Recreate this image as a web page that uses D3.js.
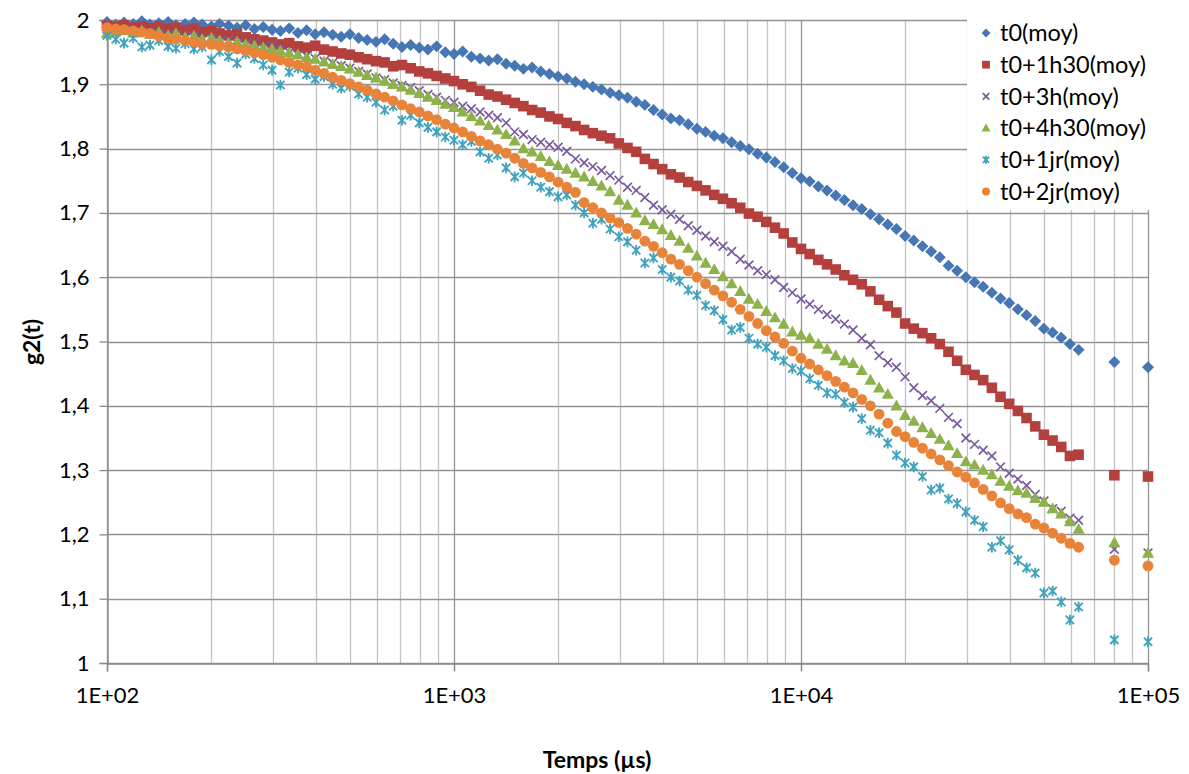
<!DOCTYPE html>
<html><head><meta charset="utf-8">
<script src="https://cdn.jsdelivr.net/npm/d3@7"></script>
<style>
html,body{margin:0;padding:0;background:#fff;}
svg{display:block;font-family:Lato,"Open Sans",sans-serif;}
</style></head>
<body><svg id="chart" width="1189" height="774"></svg>
<script>
// Lag times (µs)
const times = [
100,106,112,119,126,133,141,150,158,168,178,188,200,211,224,237,251,266,282,299,
316,335,355,376,398,422,447,473,501,531,562,596,631,668,708,750,794,841,891,944,
1000,1059,1122,1189,1259,1334,1413,1496,1585,1679,1778,1884,1995,2113,2239,2371,2512,2661,2818,2985,
3162,3350,3548,3758,3981,4217,4467,4732,5012,5309,5623,5957,6310,6683,7079,7499,7943,8414,8913,9441,
10000,10593,11220,11885,12589,13335,14125,14962,15849,16788,17783,18836,19953,21135,22387,23714,25119,26607,28184,29854,
31623,33497,35481,37584,39811,42170,44668,47315,50119,53088,56234,59566,63096,80000,100000];

const t0 = [1.997,1.993,1.996,1.994,1.998,1.993,1.995,1.997,1.992,1.994,
1.996,1.993,1.990,1.994,1.991,1.988,1.992,1.986,1.989,1.985,
1.983,1.987,1.980,1.984,1.978,1.981,1.977,1.974,1.978,1.972,
1.969,1.966,1.970,1.963,1.958,1.961,1.957,1.954,1.959,1.950,
1.947,1.951,1.943,1.940,1.937,1.939,1.932,1.929,1.924,1.926,
1.920,1.916,1.912,1.909,1.904,1.900,1.896,1.892,1.887,1.883,
1.879,1.873,1.868,1.860,1.853,1.847,1.844,1.838,1.831,1.826,
1.820,1.816,1.810,1.804,1.799,1.792,1.786,1.779,1.771,1.762,
1.754,1.749,1.741,1.735,1.727,1.720,1.712,1.706,1.698,1.690,
1.682,1.675,1.664,1.657,1.648,1.640,1.631,1.618,1.610,1.600,
1.592,1.585,1.576,1.567,1.560,1.550,1.541,1.532,1.520,1.514,
1.506,1.496,1.487,1.468,1.460];

const t1h30 = [1.991,1.989,1.992,1.988,1.990,1.987,1.990,1.986,1.988,1.984,
1.986,1.981,1.983,1.979,1.976,1.978,1.973,1.970,1.968,1.965,
1.962,1.964,1.959,1.957,1.960,1.954,1.951,1.948,1.946,1.942,
1.939,1.936,1.934,1.928,1.930,1.925,1.920,1.917,1.913,1.909,
1.905,1.900,1.896,1.890,1.884,1.881,1.876,1.871,1.866,1.860,
1.856,1.850,1.846,1.840,1.835,1.829,1.824,1.820,1.816,1.808,
1.801,1.795,1.784,1.776,1.768,1.760,1.755,1.748,1.742,1.735,
1.728,1.722,1.715,1.708,1.699,1.694,1.686,1.677,1.668,1.654,
1.644,1.636,1.627,1.620,1.612,1.603,1.596,1.589,1.578,1.565,
1.555,1.545,1.528,1.520,1.513,1.505,1.496,1.484,1.470,1.456,
1.448,1.440,1.428,1.414,1.403,1.392,1.381,1.368,1.355,1.346,
1.336,1.322,1.324,1.292,1.290];

const t3h = [1.986,1.983,1.985,1.980,1.982,1.978,1.980,1.976,1.978,1.973,
1.975,1.970,1.972,1.967,1.969,1.964,1.962,1.965,1.958,1.960,
1.955,1.950,1.946,1.944,1.940,1.936,1.933,1.929,1.925,1.920,
1.916,1.910,1.907,1.902,1.898,1.895,1.890,1.884,1.880,1.875,
1.872,1.866,1.862,1.857,1.852,1.848,1.840,1.826,1.822,1.814,
1.810,1.806,1.802,1.796,1.784,1.778,1.772,1.766,1.758,1.751,
1.740,1.735,1.724,1.712,1.705,1.698,1.690,1.680,1.673,1.664,
1.655,1.648,1.640,1.628,1.619,1.610,1.604,1.596,1.584,1.576,
1.566,1.558,1.550,1.542,1.535,1.527,1.518,1.505,1.495,1.478,
1.467,1.460,1.445,1.428,1.416,1.408,1.396,1.382,1.372,1.350,
1.340,1.331,1.322,1.305,1.295,1.286,1.276,1.262,1.252,1.240,
1.236,1.225,1.222,1.177,1.171];

const t4h30 = [1.979,1.982,1.984,1.980,1.983,1.978,1.981,1.976,1.979,1.973,
1.975,1.970,1.972,1.968,1.964,1.966,1.962,1.960,1.957,1.955,
1.952,1.949,1.946,1.942,1.939,1.935,1.931,1.928,1.924,1.919,
1.914,1.910,1.905,1.900,1.896,1.891,1.886,1.880,1.875,1.869,
1.864,1.857,1.850,1.843,1.836,1.829,1.822,1.812,1.800,1.795,
1.788,1.780,1.774,1.768,1.762,1.756,1.749,1.742,1.733,1.720,
1.712,1.700,1.688,1.682,1.674,1.665,1.656,1.645,1.633,1.622,
1.612,1.601,1.590,1.578,1.566,1.558,1.547,1.537,1.527,1.515,
1.510,1.505,1.496,1.488,1.478,1.470,1.466,1.455,1.440,1.428,
1.418,1.400,1.385,1.376,1.366,1.357,1.348,1.338,1.326,1.313,
1.308,1.300,1.293,1.283,1.275,1.268,1.264,1.256,1.250,1.240,
1.232,1.220,1.208,1.187,1.171];

const t1jr = [1.976,1.970,1.964,1.972,1.958,1.961,1.968,1.959,1.956,1.963,
1.955,1.958,1.938,1.951,1.943,1.933,1.947,1.940,1.930,1.922,
1.899,1.919,1.925,1.915,1.908,1.912,1.900,1.894,1.897,1.885,
1.880,1.872,1.860,1.866,1.844,1.852,1.840,1.833,1.826,1.818,
1.813,1.806,1.811,1.795,1.785,1.790,1.770,1.756,1.762,1.750,
1.740,1.733,1.725,1.728,1.712,1.700,1.684,1.690,1.675,1.663,
1.655,1.642,1.622,1.630,1.612,1.600,1.594,1.580,1.572,1.556,
1.548,1.534,1.518,1.522,1.505,1.496,1.491,1.478,1.470,1.458,
1.454,1.442,1.432,1.420,1.418,1.405,1.398,1.380,1.362,1.358,
1.342,1.323,1.311,1.305,1.290,1.269,1.272,1.255,1.248,1.235,
1.222,1.212,1.180,1.190,1.176,1.160,1.148,1.140,1.109,1.112,
1.095,1.067,1.087,1.036,1.033];

const t2jr = [1.988,1.986,1.985,1.983,1.981,1.979,1.975,1.971,1.970,1.968,
1.966,1.963,1.962,1.960,1.958,1.955,1.952,1.949,1.946,1.942,
1.938,1.934,1.930,1.927,1.922,1.917,1.911,1.906,1.901,1.896,
1.891,1.885,1.880,1.874,1.868,1.862,1.857,1.851,1.845,1.838,
1.832,1.826,1.819,1.812,1.806,1.799,1.793,1.785,1.777,1.770,
1.763,1.756,1.748,1.740,1.732,1.716,1.708,1.700,1.692,1.685,
1.676,1.667,1.656,1.648,1.638,1.628,1.620,1.610,1.600,1.590,
1.580,1.571,1.561,1.550,1.539,1.528,1.517,1.507,1.497,1.485,
1.474,1.465,1.456,1.447,1.438,1.429,1.420,1.410,1.400,1.387,
1.373,1.360,1.352,1.343,1.334,1.325,1.316,1.307,1.297,1.289,
1.280,1.270,1.260,1.249,1.240,1.232,1.226,1.216,1.210,1.202,
1.194,1.186,1.180,1.160,1.151];

const seriesNames = ["t0(moy)","t0+1h30(moy)","t0+3h(moy)","t0+4h30(moy)","t0+1jr(moy)","t0+2jr(moy)"];
const seriesValues = [t0, t1h30, t3h, t4h30, t1jr, t2jr];
const seriesColors = ["#4677B4","#B4403E","#7A5A9E","#8DB24A","#3FA3C0","#E8833A"];
const seriesMarkers = ["diamond","square","x","triangle","star","circle"];

const xTicks = [100,1000,10000,100000];
const xTickLabels = ["1E+02","1E+03","1E+04","1E+05"];
const yTicks = [1,1.1,1.2,1.3,1.4,1.5,1.6,1.7,1.8,1.9,2];
const yTickLabels = ["1","1,1","1,2","1,3","1,4","1,5","1,6","1,7","1,8","1,9","2"];

const svg = d3.select("#chart");
const L = 107, R = 1148, T = 20, B = 663;
const x = d3.scaleLog().domain([100,100000]).range([L,R]);
const y = d3.scaleLinear().domain([1,2]).range([B,T]);

const grid = svg.append("g");
const minor = [];
[100,1000,10000].forEach(d => { for (let k=2;k<=9;k++) minor.push(d*k); });
grid.selectAll("line.minor").data(minor).join("line")
  .attr("x1",d=>Math.round(x(d))+0.5).attr("x2",d=>Math.round(x(d))+0.5)
  .attr("y1",T).attr("y2",B).attr("stroke","#c3c3c3").attr("stroke-width",1.3);
grid.selectAll("line.h").data(yTicks).join("line")
  .attr("x1",L).attr("x2",R).attr("y1",d=>Math.round(y(d))+0.5).attr("y2",d=>Math.round(y(d))+0.5)
  .attr("stroke","#939393").attr("stroke-width",1.3);
grid.selectAll("line.maj").data(xTicks).join("line")
  .attr("x1",d=>Math.round(x(d))+0.5).attr("x2",d=>Math.round(x(d))+0.5)
  .attr("y1",T).attr("y2",B+8).attr("stroke","#939393").attr("stroke-width",1.3);

const yAxis = d3.axisLeft(y).tickValues(yTicks).tickSize(8).tickFormat((d,i)=>yTickLabels[i]).tickPadding(10);
const ya = svg.append("g").attr("transform",`translate(${L+0.5},0)`).call(yAxis);
ya.select(".domain").attr("stroke","#8a8a8a").attr("stroke-width",1.3);
ya.selectAll(".tick line").attr("stroke","#8a8a8a").attr("stroke-width",1.3);
ya.selectAll("text").attr("font-size",22).attr("fill","#000").attr("font-family","Lato");
const xAxis = d3.axisBottom(x).tickValues(xTicks).tickSize(8).tickFormat((d,i)=>xTickLabels[i]).tickPadding(16);
const xa = svg.append("g").attr("transform",`translate(0,${B+0.5})`).call(xAxis);
xa.select(".domain").attr("stroke","#8a8a8a").attr("stroke-width",1.3);
xa.selectAll(".tick line").attr("stroke","#8a8a8a").attr("stroke-width",1.3);
xa.selectAll("text").attr("font-size",22).attr("fill","#000").attr("font-family","Lato");

function marker(sel, type, color, s) {
  s = s || 1;
  if (type === "diamond") sel.append("path").attr("d",`M0,${-5.2*s}L${5.2*s},0L0,${5.2*s}L${-5.2*s},0Z`).attr("fill",color);
  else if (type === "square") sel.append("rect").attr("x",-4.6*s).attr("y",-4.6*s).attr("width",9.2*s).attr("height",9.2*s).attr("fill",color);
  else if (type === "triangle") sel.append("path").attr("d",`M0,${-5.5*s}L${5.3*s},${4*s}L${-5.3*s},${4*s}Z`).attr("fill",color);
  else if (type === "circle") sel.append("circle").attr("r",4.7*s).attr("fill",color);
  else if (type === "x") sel.append("path").attr("d",`M${-3.8*s},${-3.8*s}L${3.8*s},${3.8*s}M${3.8*s},${-3.8*s}L${-3.8*s},${3.8*s}`).attr("stroke",color).attr("stroke-width",1.7).attr("fill","none");
  else if (type === "star") sel.append("path").attr("d",`M${-3.6*s},${-3.6*s}L${3.6*s},${3.6*s}M${3.6*s},${-3.6*s}L${-3.6*s},${3.6*s}M0,${-4.6*s}L0,${4.6*s}`).attr("stroke",color).attr("stroke-width",1.9).attr("fill","none");
}

const plot = svg.append("g");
seriesValues.forEach((vals, si) => {
  const g = plot.append("g");
  const pts = g.selectAll("g").data(vals.map((v,i)=>[times[i],v])).join("g")
    .attr("transform",d=>`translate(${x(d[0])},${y(d[1])})`);
  pts.each(function(){ marker(d3.select(this), seriesMarkers[si], seriesColors[si], 1.15); });
});

const lg = svg.append("g");
lg.append("rect").attr("x",967).attr("y",8).attr("width",200).attr("height",202).attr("fill","#fff");
seriesNames.forEach((n,i) => {
  const yy = 33 + i*31.7;
  const m = lg.append("g").attr("transform",`translate(986,${yy})`);
  marker(m, seriesMarkers[i], seriesColors[i], 0.85);
  lg.append("text").attr("x",1000).attr("y",yy).attr("dy","0.35em").attr("font-size",23.5).attr("font-family","Lato").attr("fill","#000").text(n);
});

svg.append("text").attr("transform","translate(40,342) rotate(-90)").attr("text-anchor","middle")
  .attr("font-size",23).attr("font-weight","bold").attr("font-family","Lato").text("g2(t)");
svg.append("text").attr("x",597).attr("y",768).attr("text-anchor","middle")
  .attr("font-size",23).attr("font-weight","bold").attr("font-family","Lato").text("Temps (µs)");
</script></body></html>
